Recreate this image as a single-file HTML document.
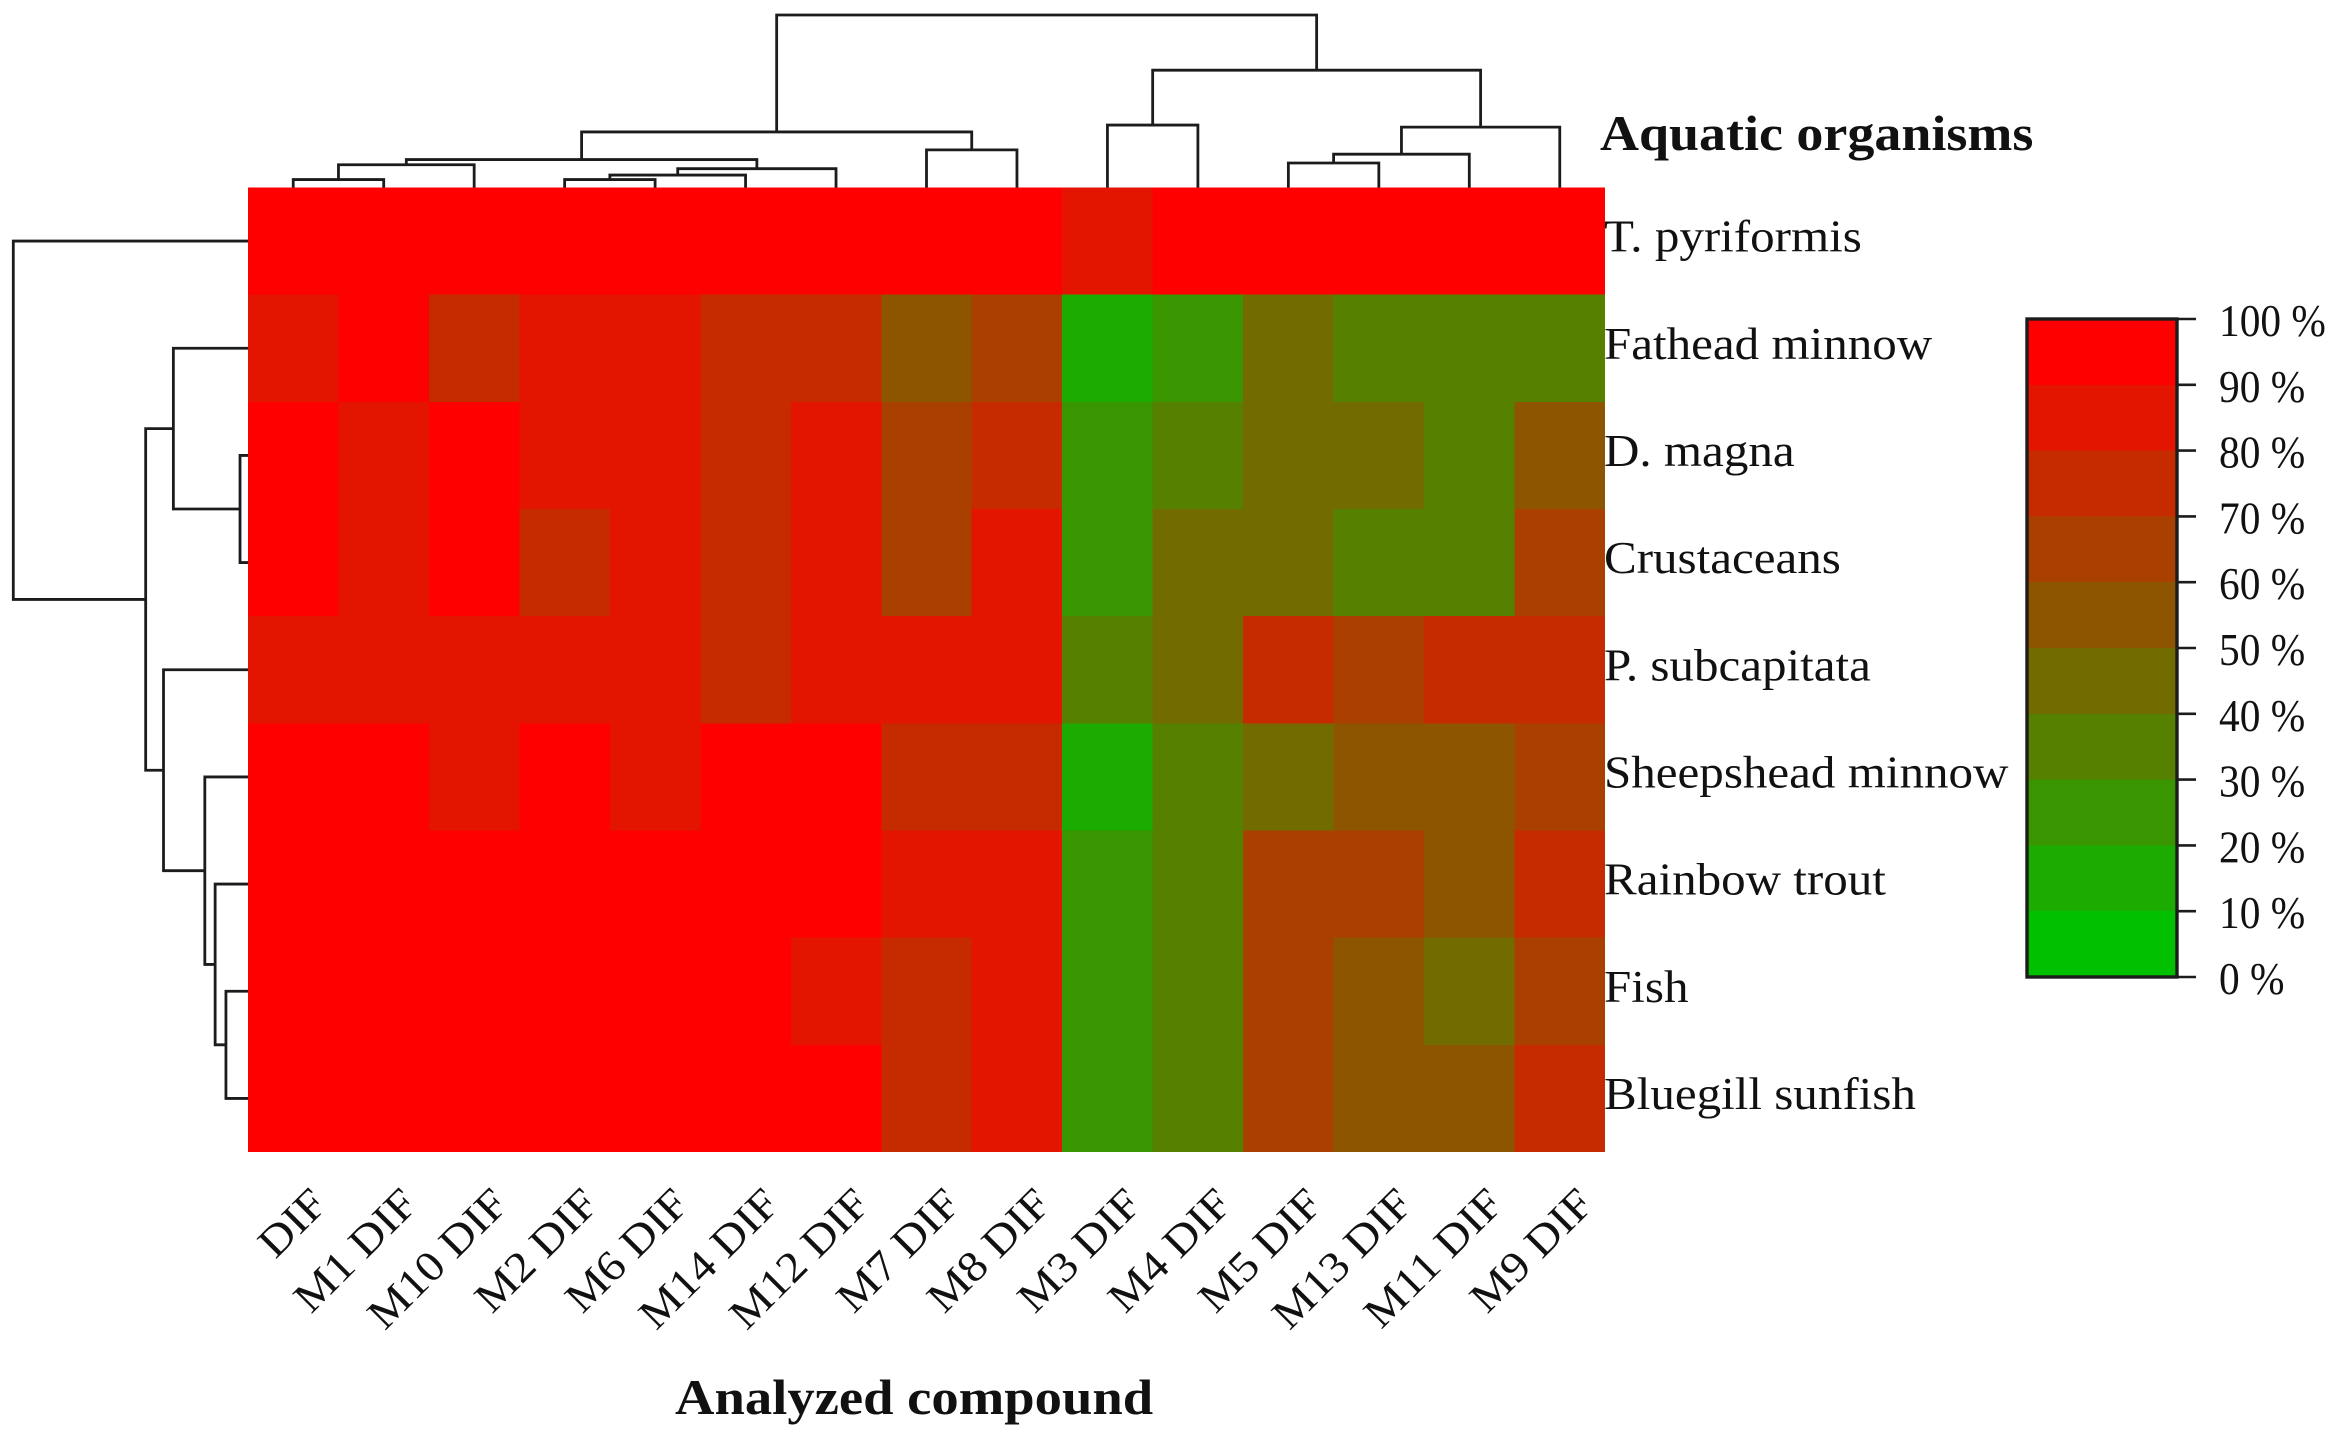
<!DOCTYPE html>
<html lang="en">
<head>
<meta charset="utf-8">
<title>Aquatic organisms heatmap</title>
<style>
html,body{margin:0;padding:0;background:#fff}
svg{display:block}
text{font-family:"Liberation Serif",serif;fill:#111}
</style>
</head>
<body>
<svg id="chart" xmlns="http://www.w3.org/2000/svg" width="2335" height="1437" viewBox="0 0 2335 1437">
  <g id="column-dendrogram"></g>
  <g id="row-dendrogram"></g>
  <g id="cells"></g>
  <g id="row-labels"></g>
  <g id="column-labels"></g>
  <g id="legend"></g>
  <text transform="translate(1600 150) scale(1.08 1)" font-size="50" font-weight="bold">Aquatic organisms</text>
  <text transform="translate(675 1414) scale(1.093 1)" font-size="50" font-weight="bold">Analyzed compound</text>
</svg>
<script>
const columnLabels = ["DIF","M1 DIF","M10 DIF","M2 DIF","M6 DIF","M14 DIF","M12 DIF","M7 DIF","M8 DIF","M3 DIF","M4 DIF","M5 DIF","M13 DIF","M11 DIF","M9 DIF"];
const rowLabels = ["T. pyriformis","Fathead minnow","D. magna","Crustaceans","P. subcapitata","Sheepshead minnow","Rainbow trout","Fish","Bluegill sunfish"];
const rowTPyriformis = [95,95,95,95,95,95,95,95,95,85,95,95,95,95,95];
const rowFathead     = [85,95,75,85,85,75,75,55,65,15,25,45,35,35,35];
const rowDMagna      = [95,85,95,85,85,75,85,65,75,25,35,45,45,35,55];
const rowCrustaceans = [95,85,95,75,85,75,85,65,85,25,45,45,35,35,65];
const rowPSubcap     = [85,85,85,85,85,75,85,85,85,35,45,75,65,75,75];
const rowSheepshead  = [95,95,85,95,85,95,95,75,75,15,35,45,55,55,65];
const rowRainbow     = [95,95,95,95,95,95,95,85,85,25,35,65,65,55,75];
const rowFish        = [95,95,95,95,95,95,85,75,85,25,35,65,55,45,65];
const rowBluegill    = [95,95,95,95,95,95,95,75,85,25,35,65,55,55,75];
const cellValues = [rowTPyriformis,rowFathead,rowDMagna,rowCrustaceans,rowPSubcap,rowSheepshead,rowRainbow,rowFish,rowBluegill];
const legendTicks = [0,10,20,30,40,50,60,70,80,90,100];
/* hclust style merges: [childA, childB, height]; negative = leaf number, positive = earlier merge number */
const columnMerges = [[-1,-2,4.6],[1,-3,13.2],[-4,-5,4.6],[3,-6,7.2],[4,-7,10.9],[2,5,16.2],[-8,-9,21.8],[6,7,32.2],[-10,-11,36.2],[-12,-13,14.2],[10,-14,19.3],[11,-15,35],[9,12,68],[8,13,100]];
const rowMerges = [[-3,-4,3.4],[-2,1,31.8],[-8,-9,9.4],[-7,3,14],[-6,4,18.4],[-5,5,36],[2,6,43.6],[-1,7,100]];

const NS = "http://www.w3.org/2000/svg";
const plot = {left:248, right:1605, top:187.5, bottom:1152};
const colW = (plot.right-plot.left)/columnLabels.length;
const rowH = (plot.bottom-plot.top)/rowLabels.length;
const colEdge = i => plot.left + i*colW;
const rowEdge = i => plot.top + i*rowH;
const colCenter = i => colEdge(i)+colW/2;
const rowCenter = i => rowEdge(i)+rowH/2;
const topHeight = h => plot.top - h*1.725;
const leftHeight = h => plot.left - h*2.347;
const legendBox = {left:2027, right:2177, top:319, bottom:977, tickEnd:2196};
const legendY = v => legendBox.bottom - (v/100)*(legendBox.bottom-legendBox.top);
function binColor(v){
  const bin = Math.min(9, Math.max(0, Math.floor(v/10)));
  const t = bin/9;
  return "rgb("+Math.round(255*t)+","+Math.round(192*(1-t))+",0)";
}
function make(tag,parent){
  const e = document.createElementNS(NS,tag);
  parent.appendChild(e);
  return e;
}
const kebab = s => s.toLowerCase().replace(/[^a-z0-9]+/g,"-").replace(/^-|-$/g,"");

/* heatmap cells */
const cellsG = document.getElementById("cells");
cellValues.forEach((row,r)=>{
  row.forEach((v,c)=>{
    const rect = make("rect",cellsG);
    rect.setAttribute("x",colEdge(c));
    rect.setAttribute("y",rowEdge(r));
    rect.setAttribute("width",colW);
    rect.setAttribute("height",rowH);
    rect.setAttribute("fill",binColor(v));
    rect.setAttribute("shape-rendering","crispEdges");
    
    
  });
});

/* dendrograms */
function drawTree(merges,parent,leafPos,heightPos,vertical,prefix){
  const nodePos = [];
  const nodeH = [];
  const resolve = id => id<0 ? {p:leafPos(-id-1),h:0} : {p:nodePos[id-1],h:nodeH[id-1]};
  merges.forEach((m,i)=>{
    const a = resolve(m[0]);
    const b = resolve(m[1]);
    const h = m[2];
    nodePos[i] = (a.p+b.p)/2;
    nodeH[i] = h;
    const path = make("path",parent);
    const d = vertical
      ? "M"+a.p+" "+heightPos(a.h)+"V"+heightPos(h)+"H"+b.p+"V"+heightPos(b.h)
      : "M"+heightPos(a.h)+" "+a.p+"H"+heightPos(h)+"V"+b.p+"H"+heightPos(b.h);
    path.setAttribute("d",d);
    path.setAttribute("fill","none");
    path.setAttribute("stroke","#1c1c1c");
    path.setAttribute("stroke-width","2.8");
    
    
  });
}
drawTree(columnMerges,document.getElementById("column-dendrogram"),colCenter,topHeight,true,"column");
drawTree(rowMerges,document.getElementById("row-dendrogram"),rowCenter,leftHeight,false,"row");

/* row labels */
const rowLabelG = document.getElementById("row-labels");
rowLabels.forEach((label,r)=>{
  const t = make("text",rowLabelG);
  t.textContent = label;
  t.setAttribute("font-size","45");
  t.setAttribute("transform","translate(1604 "+(rowCenter(r)+10.5)+") scale(1.09 1)");
  
  
});

/* column labels */
const colLabelG = document.getElementById("column-labels");
columnLabels.forEach((label,c)=>{
  const t = make("text",colLabelG);
  t.textContent = label;
  t.setAttribute("font-size","43");
  t.setAttribute("text-anchor","end");
  t.setAttribute("transform","translate("+(colCenter(c)+36)+" 1206) rotate(-45) scale(1.1 1)");
  
  
});

/* legend */
const legendG = document.getElementById("legend");
legendTicks.slice(0,-1).forEach((v,i)=>{
  const top = legendY(legendTicks[i+1]);
  const bot = legendY(v);
  const rect = make("rect",legendG);
  rect.setAttribute("x",legendBox.left);
  rect.setAttribute("y",top);
  rect.setAttribute("width",legendBox.right-legendBox.left);
  rect.setAttribute("height",bot-top);
  rect.setAttribute("fill",binColor(v));
  rect.setAttribute("shape-rendering","crispEdges");
  
  
});
const frame = make("rect",legendG);
frame.setAttribute("x",legendBox.left);
frame.setAttribute("y",legendBox.top);
frame.setAttribute("width",legendBox.right-legendBox.left);
frame.setAttribute("height",legendBox.bottom-legendBox.top);
frame.setAttribute("fill","none");
frame.setAttribute("stroke","#1c1c1c");
frame.setAttribute("stroke-width","3.4");


legendTicks.forEach(v=>{
  const y = legendY(v);
  const tick = make("line",legendG);
  tick.setAttribute("x1",legendBox.right);
  tick.setAttribute("x2",legendBox.tickEnd);
  tick.setAttribute("y1",y);
  tick.setAttribute("y2",y);
  tick.setAttribute("stroke","#1c1c1c");
  tick.setAttribute("stroke-width","2.6");
  
  
  const t = make("text",legendG);
  t.textContent = v+" %";
  t.setAttribute("font-size","45");
  t.setAttribute("transform","translate(2219 "+(y+17)+") scale(0.92 1)");
  
  
});
</script>
</body>
</html>
